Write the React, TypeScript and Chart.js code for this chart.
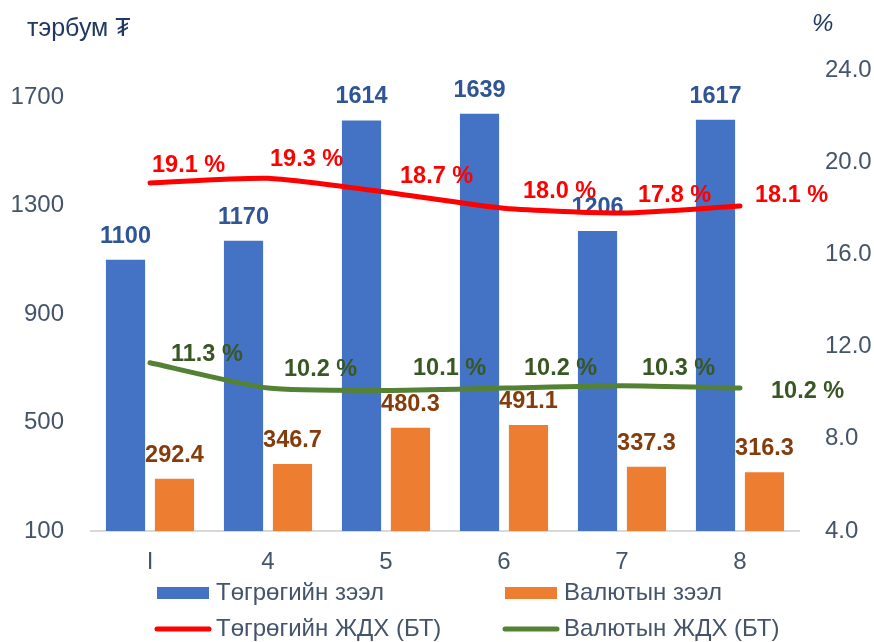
import React, { useEffect, useRef } from "react";
import { Chart, registerables } from "chart.js";

Chart.register(...registerables);

// ---- data ----
const categories = ["I", "4", "5", "6", "7", "8"];
const togrogLoans = [1100, 1170, 1614, 1639, 1206, 1617];
const fxLoans = [292.4, 346.7, 480.3, 491.1, 337.3, 316.3];
const togrogNpl = [19.1, 19.3, 18.7, 18.0, 17.8, 18.1];
const fxNpl = [11.3, 10.2, 10.1, 10.2, 10.3, 10.2];
const leftTicks = [100, 500, 900, 1300, 1700];
const rightTicks = [4, 8, 12, 16, 20, 24];
const seriesNames = ["Төгрөгийн зээл", "Валютын зээл", "Төгрөгийн ЖДХ (БТ)", "Валютын ЖДХ (БТ)"];
const leftTitle = "тэрбум ₮";
const rightTitle = "%";

// ---- styles / layout ----
const FONT = '"Liberation Sans", Arial, Helvetica, sans-serif';
const TICK_COLOR = "#44546A";
const TITLE_COLOR = "#1F3864";
const BAR_COLORS = ["#4472C4", "#ED7D31"];
const BAR_LABEL_COLORS = ["#2F5597", "#843C0C"];
const LINE_COLORS = ["#FF0000", "#548235"];
const LINE_LABEL_COLORS = ["#FF0000", "#385723"];
// label nudges (pixels, relative to each line point) – text left edge / baseline
const LINE_LABEL_DX = [
  [2, 2, 14, 19, 16, 15],
  [21, 16, 27, 20, 20, 31],
];
const LINE_LABEL_DY = [
  [-11, -12, -9, -10, -11, -4],
  [-2, -12, -15, -13, -11, 10],
];

const labelPlugin = {
  id: "customLabels",
  afterDatasetDraw(chart: any, args: any) {
    const i = args.index;
    if (i > 1) return;
    const ctx = chart.ctx;
    const meta = args.meta;
    const values = chart.data.datasets[i].data as number[];
    ctx.save();
    ctx.font = `bold 23.5px ${FONT}`;
    ctx.fillStyle = BAR_LABEL_COLORS[i];
    ctx.textAlign = "center";
    ctx.textBaseline = "alphabetic";
    meta.data.forEach((el: any, j: number) => {
      const v = values[j];
      const txt = i === 0 ? String(Math.round(v)) : v.toFixed(1);
      ctx.fillText(txt, el.x, el.y - 17);
    });
    ctx.restore();
  },
  afterDatasetsDraw(chart: any) {
    const ctx = chart.ctx;
    ctx.save();
    ctx.font = `bold 23.5px ${FONT}`;
    ctx.textAlign = "left";
    ctx.textBaseline = "alphabetic";
    [2, 3].forEach((di, k) => {
      const meta = chart.getDatasetMeta(di);
      const values = chart.data.datasets[di].data as number[];
      ctx.fillStyle = LINE_LABEL_COLORS[k];
      meta.data.forEach((el: any, j: number) => {
        ctx.fillText(values[j].toFixed(1) + " %", el.x + LINE_LABEL_DX[k][j], el.y + LINE_LABEL_DY[k][j]);
      });
    });
    ctx.restore();
  },
  afterDraw(chart: any) {
    const ctx = chart.ctx;
    ctx.save();
    // axis titles
    ctx.fillStyle = TITLE_COLOR;
    ctx.textBaseline = "alphabetic";
    ctx.textAlign = "left";
    ctx.font = `25px ${FONT}`;
    ctx.fillText(leftTitle, 27, 36);
    ctx.font = `italic 24px ${FONT}`;
    ctx.fillText(rightTitle, 812, 31);

    // legend (2 x 2)
    const cols = [155, 503];
    const rows = [593, 629];
    ctx.font = `24px ${FONT}`;
    ctx.textBaseline = "middle";
    seriesNames.forEach((name, idx) => {
      const cx = cols[idx % 2];
      const cy = rows[Math.floor(idx / 2)];
      if (idx < 2) {
        ctx.fillStyle = BAR_COLORS[idx];
        ctx.fillRect(cx + 2, cy - 6, 52, 12);
      } else {
        ctx.strokeStyle = LINE_COLORS[idx - 2];
        ctx.lineWidth = 5;
        ctx.lineCap = "round";
        ctx.beginPath();
        ctx.moveTo(cx + 2, cy);
        ctx.lineTo(cx + 54, cy);
        ctx.stroke();
      }
      ctx.fillStyle = TICK_COLOR;
      ctx.fillText(name, cx + 61, cy);
    });
    ctx.restore();
  },
};

export default function App() {
  const ref = useRef<HTMLCanvasElement | null>(null);

  useEffect(() => {
    document.body.style.margin = "0";
    const canvas = ref.current;
    if (!canvas) return;
    const tickFont = { family: FONT, size: 24 };
    const chart = new Chart(canvas, {
      type: "bar",
      data: {
        labels: categories,
        datasets: [
          {
            type: "bar",
            label: seriesNames[0],
            data: togrogLoans,
            backgroundColor: BAR_COLORS[0],
            yAxisID: "y",
            order: 2,
            categoryPercentage: 0.83,
            barPercentage: 0.8,
          },
          {
            type: "bar",
            label: seriesNames[1],
            data: fxLoans,
            backgroundColor: BAR_COLORS[1],
            yAxisID: "y",
            order: 2,
            categoryPercentage: 0.83,
            barPercentage: 0.8,
          },
          {
            type: "line",
            label: seriesNames[2],
            data: togrogNpl,
            borderColor: LINE_COLORS[0],
            backgroundColor: LINE_COLORS[0],
            borderWidth: 5,
            pointRadius: 0,
            tension: 0.2,
            borderCapStyle: "round",
            borderJoinStyle: "round",
            yAxisID: "y1",
            order: 0,
          },
          {
            type: "line",
            label: seriesNames[3],
            data: fxNpl,
            borderColor: LINE_COLORS[1],
            backgroundColor: LINE_COLORS[1],
            borderWidth: 5,
            pointRadius: 0,
            tension: 0.2,
            borderCapStyle: "round",
            borderJoinStyle: "round",
            yAxisID: "y1",
            order: 0,
          },
        ] as any,
      },
      options: {
        responsive: false,
        animation: false,
        devicePixelRatio: 1,
        layout: { padding: { top: 70, left: 0, right: 0, bottom: 0 } },
        plugins: {
          legend: { display: false },
          tooltip: { enabled: false },
        },
        scales: {
          x: {
            grid: { display: false, drawTicks: false },
            border: { display: true, color: "#D9D9D9", width: 2 },
            ticks: { color: TICK_COLOR, font: tickFont, padding: 17, maxRotation: 0 },
            afterFit(s: any) {
              s.height = 111;
            },
          },
          y: {
            position: "left",
            min: 100,
            max: 1800,
            grid: { display: false, drawTicks: false },
            border: { display: false },
            ticks: {
              color: TICK_COLOR,
              font: tickFont,
              padding: 27,
              callback: (v: any) => String(v),
            },
            afterBuildTicks(s: any) {
              s.ticks = leftTicks.map((v) => ({ value: v }));
            },
            afterFit(s: any) {
              s.width = 91;
            },
          },
          y1: {
            position: "right",
            min: 4,
            max: 24,
            grid: { display: false, drawTicks: false },
            border: { display: false },
            ticks: {
              color: TICK_COLOR,
              font: tickFont,
              padding: 26,
              callback: (v: any) => Number(v).toFixed(1),
            },
            afterBuildTicks(s: any) {
              s.ticks = rightTicks.map((v) => ({ value: v }));
            },
            afterFit(s: any) {
              s.width = 75;
            },
          },
        },
      } as any,
      plugins: [labelPlugin],
    });
    return () => chart.destroy();
  }, []);

  return (
    <div style={{ position: "relative", width: 874, height: 642, background: "#fff" }}>
      <canvas ref={ref} width={874} height={642} style={{ display: "block", width: 874, height: 642 }} />
    </div>
  );
}
